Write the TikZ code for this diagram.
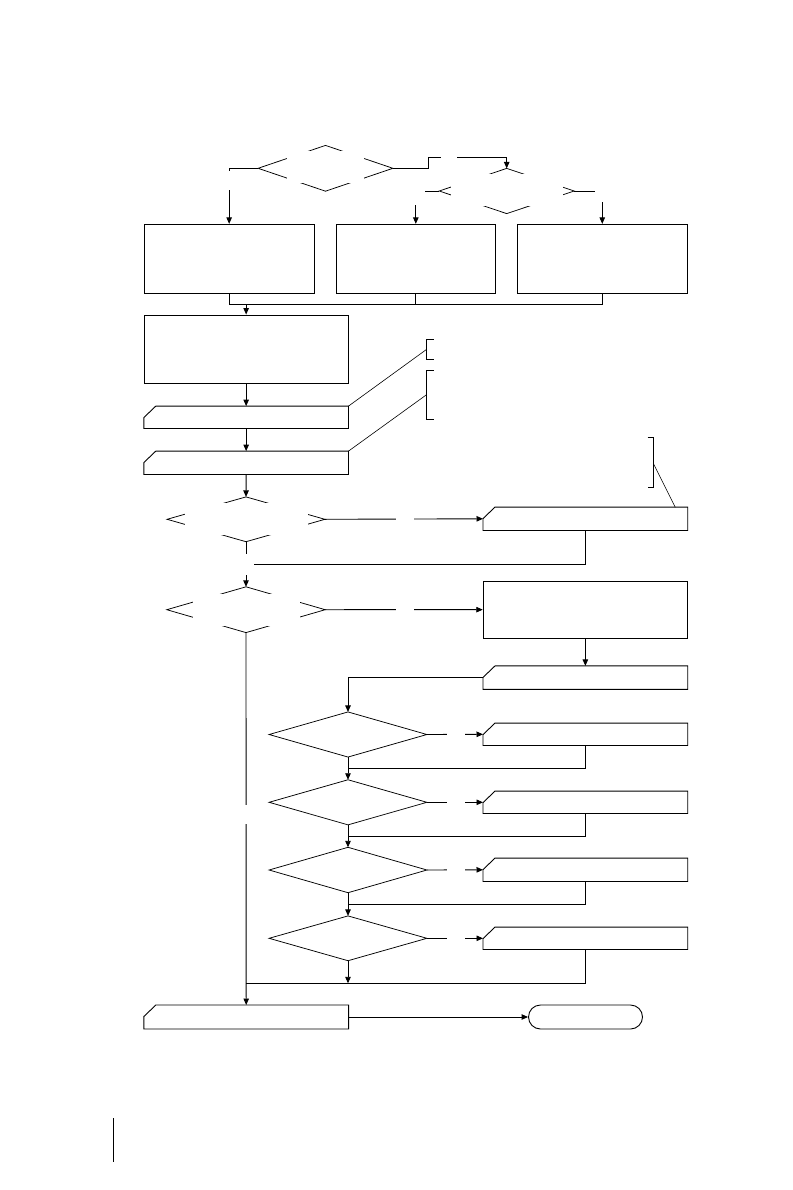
\documentclass[tikz,border=0pt]{standalone}
\usetikzlibrary{arrows.meta,calc}
\begin{document}
\begin{tikzpicture}[x=1pt,y=-1pt,
  ln/.style={line width=0.9pt},
  dl/.style={line width=0.75pt},
  lead/.style={line width=0.6pt},
  arr/.style={ln,-{Triangle[length=6.5pt,width=5.5pt]}},
  bx/.style n args={2}{draw,ln,rectangle,inner sep=0pt,minimum width=#1pt,minimum height=#2pt},
  hid/.style n args={2}{rectangle,inner sep=0pt,minimum width=#1pt,minimum height=#2pt},
  mask/.style={fill=white,draw=none}]
\useasboundingbox (0,0) rectangle (792,1190);
% decision shapes (outlines drawn below)
\node[hid={134.4}{45.4}] (D1) at (325.5,168.3) {};
\node[hid={134.6}{44.8}] (D2) at (506.7,191) {};
\node[hid={157.5}{44.4}] (D3) at (246,519.3) {};
\node[hid={158}{45.4}] (D4) at (246,609.7) {};
\node[hid={157.4}{44.7}] (D5) at (348,734.5) {};
\node[hid={157.4}{44.7}] (D6) at (348,802.3) {};
\node[hid={157.4}{45}] (D7) at (348,870) {};
\node[hid={157.4}{44.4}] (D8) at (348,938.3) {};
% process boxes
\node[bx={170.3}{69}] (A) at (229.15,258.8) {};
\node[bx={159}{69}] (B) at (415.8,258.8) {};
\node[bx={170.5}{69}] (C) at (602.25,258.8) {};
\node[bx={204.3}{68.3}] (D) at (246.15,349.15) {};
\node[bx={204.3}{57.3}] (H) at (585.35,609.65) {};
% cut-corner boxes
\node[hid={204.3}{22}] (E) at (246.15,417.3) {};
\node[hid={204.3}{23}] (F) at (246.15,462.8) {};
\node[hid={204.3}{23}] (G) at (585.35,518.8) {};
\node[hid={204.3}{23}] (I) at (585.35,677.6) {};
\node[hid={204.3}{22}] (J) at (585.35,734.3) {};
\node[hid={204.3}{22}] (K) at (585.35,802.3) {};
\node[hid={204.3}{23}] (L) at (585.35,869.8) {};
\node[hid={204.3}{22}] (M) at (585.35,938.3) {};
\node[hid={204.3}{23.6}] (N) at (246.2,1017) {};
% terminal
\node[draw,ln,rounded corners=12pt,inner sep=0pt,minimum width=114pt,minimum height=24pt] (T) at (585.5,1017) {};

\foreach \n in {D1,D2,D3,D4,D5,D6,D7,D8}
  \draw[dl] (\n.west) -- (\n.north) -- (\n.east) -- (\n.south) -- cycle;
\foreach \n in {E,F,G,I,J,K,L,M,N}
  \draw[ln] (\n.south west) -- ([yshift=-11.5pt]\n.north west) -- ([xshift=12pt]\n.north west)
            -- (\n.north east) -- (\n.south east) -- cycle;

% brackets
\coordinate (br1) at (426.7,349.3);
\coordinate (br2) at (426.7,394.6);
\coordinate (br3) at (653.3,463.3);
\draw[ln] (433.7,339.3) -- (426.7,339.3) -- (426.7,359.3) -- (433.7,359.3);
\draw[ln] (433.7,370.3) -- (426.7,370.3) -- (426.7,419) -- (433.7,419);
\draw[ln] (647.7,437.3) -- (653.3,437.3) -- (653.3,487.3) -- (647.7,487.3);
\draw[lead] (E.north east) -- (br1);
\draw[lead] (F.north east) -- (br2);
\draw[lead] (br3) -- (675.3,507.3);

% connectors, top part
\draw[arr] (D1.west) -| (A.north);
\draw[arr] (D1.east) -- ++(35.2,0) -- ++(0,-11) -| (D2.north);
\draw[arr] (D2.west) -| (B.north);
\draw[arr] (D2.east) -| (C.north);
\coordinate (mrg) at (246.15,304.3);
\draw[ln] (A.south) |- (C.south |- mrg) -- (C.south);
\draw[ln] (B.south) -- (B.south |- mrg);
\draw[arr] (mrg) -- (D.north);
\draw[arr] (D.south) -- (E.north);
\draw[arr] (E.south) -- (F.north);
\draw[arr] (F.south) -- (D3.north);

% middle
\draw[arr] (D3.east) -- (G.west);
\coordinate (jn) at (246,564.3);
\draw[ln] (G.south) |- (jn);
\draw[ln] (D3.south) -- (jn);
\draw[arr] (jn) -- (D4.north);
\draw[arr] (D4.east) -- (H.west);
\draw[arr] (H.south) -- (I.north);
\draw[arr] (I.west) -| (D5.north);

% checks
\draw[arr] (D5.east) -- (J.west);
\draw[arr] (D6.east) -- (K.west);
\draw[arr] (D7.east) -- (L.west);
\draw[arr] (D8.east) -- (M.west);
\coordinate (j5) at (348,768.3);
\coordinate (j6) at (348,836);
\coordinate (j7) at (348,904);
\coordinate (j8) at (348,983.3);
\coordinate (jm) at (246,983.3);
\draw[ln] (J.south) |- (j5);
\draw[ln] (K.south) |- (j6);
\draw[ln] (L.south) |- (j7);
\draw[ln] (M.south) |- (jm);
\draw[arr] (D5.south) -- (D6.north);
\draw[arr] (D6.south) -- (D7.north);
\draw[arr] (D7.south) -- (D8.north);
\draw[arr] (D8.south) -- (j8);
\draw[arr] (D4.south) -- (N.north);
\draw[arr] (N.east) -- (T.west);

% erased label areas
\fill[mask] (287,151) rectangle (364,183);
\fill[mask] (441,150) rectangle (457,164);
\fill[mask] (222,171) rectangle (237,190);
\fill[mask] (450.7,174.5) rectangle (563.3,206);
\fill[mask] (405,180) rectangle (425,205);
\fill[mask] (595,180) rectangle (610,201.7);
\fill[mask] (185,503) rectangle (308,534.5);
\fill[mask] (395.7,512) rectangle (414,527);
\fill[mask] (238,554.3) rectangle (254.3,575);
\fill[mask] (193,593.5) rectangle (300,625.5);
\fill[mask] (395.7,602) rectangle (414,617);
\fill[mask] (240,805) rectangle (252,824);
\foreach \y in {734.5,802.3,870,938.3}
  \fill[mask] (446.7,\y-7) rectangle (465,\y+7);

% page mark
\draw[line width=1.4pt] (113.3,1118.3) -- (113.3,1161.7);
\end{tikzpicture}
\end{document}
